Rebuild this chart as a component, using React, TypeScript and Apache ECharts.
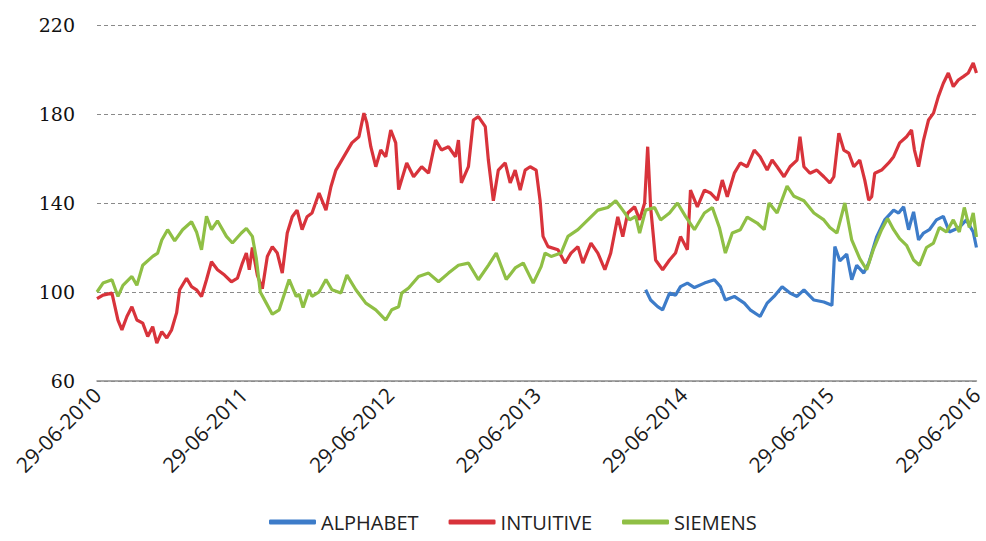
import React, { useEffect, useRef } from "react";
import * as echarts from "echarts";

// x = years since 29-06-2010
const seriesNames = ["ALPHABET", "INTUITIVE", "SIEMENS"];
const seriesColors = ["#3d7cc9", "#d8333b", "#8fbf45"];
const startYear = 2010;
const yTicks = [60, 100, 140, 180, 220];

const alphabetT = [3.743, 3.777, 3.825, 3.859, 3.906, 3.947, 3.981, 4.028, 4.076, 4.144, 4.212, 4.253, 4.287, 4.348, 4.416, 4.456, 4.524, 4.572, 4.619, 4.674, 4.728, 4.776, 4.823, 4.891, 4.959, 5.014, 5.034, 5.068, 5.115, 5.149, 5.183, 5.231, 5.265, 5.319, 5.374, 5.435, 5.469, 5.503, 5.537, 5.571, 5.605, 5.639, 5.679, 5.727, 5.774, 5.815, 5.883, 5.931, 5.978, 6.0];
const alphabetV = [101, 96.4, 93.4, 92, 99.5, 98.6, 102.4, 104, 102, 104, 105.5, 102.4, 96.4, 98, 95, 92, 89, 95, 98, 102.4, 99.5, 98, 101, 96.4, 95.5, 94, 120.4, 114, 117, 105.5, 112, 108.5, 113, 124.7, 132.4, 136.8, 135.5, 138.3, 128, 136, 123.4, 126.5, 128, 132.4, 134, 127, 129, 132.4, 127, 120];

const intuitiveT = [0, 0.041, 0.102, 0.143, 0.17, 0.204, 0.238, 0.272, 0.312, 0.346, 0.38, 0.408, 0.442, 0.476, 0.509, 0.543, 0.564, 0.611, 0.645, 0.679, 0.713, 0.747, 0.781, 0.822, 0.87, 0.917, 0.958, 0.992, 1.019, 1.039, 1.06, 1.094, 1.128, 1.162, 1.196, 1.23, 1.264, 1.298, 1.332, 1.365, 1.399, 1.433, 1.467, 1.515, 1.562, 1.596, 1.63, 1.664, 1.698, 1.739, 1.787, 1.821, 1.841, 1.868, 1.902, 1.936, 1.97, 2.004, 2.038, 2.058, 2.113, 2.16, 2.215, 2.262, 2.31, 2.35, 2.398, 2.446, 2.466, 2.486, 2.534, 2.568, 2.602, 2.649, 2.67, 2.704, 2.738, 2.785, 2.819, 2.853, 2.887, 2.921, 2.955, 2.996, 3.023, 3.043, 3.077, 3.145, 3.193, 3.234, 3.281, 3.315, 3.37, 3.417, 3.465, 3.505, 3.553, 3.587, 3.621, 3.668, 3.702, 3.736, 3.757, 3.777, 3.811, 3.859, 3.906, 3.947, 3.981, 4.028, 4.049, 4.096, 4.144, 4.185, 4.232, 4.266, 4.3, 4.348, 4.389, 4.436, 4.484, 4.524, 4.572, 4.606, 4.64, 4.687, 4.728, 4.776, 4.796, 4.823, 4.864, 4.911, 4.959, 5.0, 5.027, 5.061, 5.095, 5.129, 5.163, 5.204, 5.238, 5.265, 5.285, 5.306, 5.353, 5.401, 5.435, 5.476, 5.523, 5.557, 5.577, 5.605, 5.639, 5.673, 5.707, 5.74, 5.774, 5.808, 5.842, 5.876, 5.91, 5.944, 5.978, 6.0];
const intuitiveV = [97, 98.6, 99.5, 87.4, 83, 89, 93.4, 87.4, 86, 80, 84.4, 77, 82.2, 79.3, 83, 90.6, 101, 106.2, 102.4, 101, 98, 105.5, 113.6, 110, 107.6, 104.6, 106.2, 113, 117.5, 110, 120, 107.5, 101.5, 116, 120.4, 117.5, 108.5, 126.5, 133.8, 136.8, 128, 133.8, 135.5, 144.5, 136.8, 147.3, 154.8, 158.6, 162.4, 167, 169.8, 180.4, 176, 165.3, 156.3, 163.8, 160.8, 172.8, 167, 146, 158, 151.8, 156.3, 153.4, 168.3, 163.8, 165.3, 160.8, 168.3, 149, 156.3, 177.3, 178.8, 174.3, 159.3, 141, 154.8, 158, 149, 154.8, 145.8, 154.8, 156.3, 154.8, 141, 125, 120.4, 119, 113, 117.5, 120.4, 113, 122, 117.5, 110, 117.5, 133.8, 124.9, 135.5, 138.3, 132.4, 140, 165.3, 138.3, 114.4, 110, 114.4, 117.5, 124.9, 119, 145.8, 138.3, 145.8, 144.5, 141.3, 150.3, 142.8, 153.4, 158, 156.3, 163.8, 160.8, 154.8, 159.3, 156.3, 151.8, 156.3, 159.3, 169.8, 156.3, 153.4, 154.8, 151.8, 149, 151.8, 171.4, 163.8, 162.4, 156.3, 159.3, 150.3, 141.3, 142.8, 153.4, 154.8, 158, 160.8, 167, 169.8, 172.8, 163.8, 156.3, 168.3, 177.3, 180.4, 187.8, 193.8, 198.4, 192.3, 195.3, 196.8, 198.4, 202.9, 198.4];

const siemensT = [0, 0.041, 0.102, 0.143, 0.177, 0.238, 0.272, 0.312, 0.38, 0.414, 0.442, 0.482, 0.53, 0.584, 0.645, 0.679, 0.713, 0.747, 0.781, 0.822, 0.883, 0.924, 0.985, 1.019, 1.06, 1.087, 1.114, 1.155, 1.196, 1.243, 1.311, 1.359, 1.379, 1.406, 1.447, 1.467, 1.515, 1.562, 1.603, 1.664, 1.705, 1.766, 1.834, 1.902, 1.97, 2.011, 2.058, 2.079, 2.126, 2.194, 2.262, 2.33, 2.398, 2.466, 2.534, 2.602, 2.67, 2.724, 2.792, 2.853, 2.908, 2.976, 3.03, 3.057, 3.098, 3.166, 3.213, 3.281, 3.349, 3.417, 3.485, 3.539, 3.587, 3.634, 3.675, 3.702, 3.743, 3.804, 3.845, 3.906, 3.96, 4.015, 4.076, 4.144, 4.198, 4.246, 4.287, 4.334, 4.389, 4.436, 4.504, 4.552, 4.585, 4.64, 4.708, 4.755, 4.823, 4.891, 4.959, 5.0, 5.048, 5.102, 5.149, 5.204, 5.251, 5.299, 5.353, 5.394, 5.435, 5.476, 5.523, 5.571, 5.611, 5.659, 5.707, 5.747, 5.795, 5.842, 5.883, 5.917, 5.951, 5.978, 6.0];
const siemensV = [100, 104, 105.5, 98, 103, 107, 103, 112, 116, 117.5, 123.4, 128, 123, 128, 131.6, 127, 119, 134, 128, 132, 125, 122, 126.5, 128.6, 125, 115, 100, 95, 90, 92, 105.6, 98, 99, 93, 101, 98, 100, 105.6, 101, 99.5, 107.6, 101, 95, 92, 87.4, 92, 93.4, 99.5, 101.8, 107, 108.5, 104.6, 108.5, 112, 113, 105.5, 112, 117.5, 105.6, 110.8, 113, 104, 111.4, 117.5, 116, 117.5, 125, 128, 132.4, 136.8, 138, 141, 136.8, 132.4, 134, 126.5, 136.8, 138, 132.4, 135.5, 140, 134, 128, 135.5, 138, 129, 117.5, 126.5, 128, 133.7, 131, 128, 140, 135.5, 147.6, 143, 141, 135.5, 132.4, 129, 126.5, 140, 123.4, 115, 110, 119.5, 128, 133, 128, 124, 121, 114.4, 112, 120, 122, 129, 127, 132.4, 127, 138, 129, 135.5, 124.7];

const seriesT = [alphabetT, intuitiveT, siemensT];
const seriesV = [alphabetV, intuitiveV, siemensV];

export default function App() {
  const ref = useRef<HTMLDivElement>(null);
  useEffect(() => {
    if (!ref.current) return;
    const chart = echarts.init(ref.current, null, { renderer: "svg" });
    chart.setOption({
      animation: false,
      backgroundColor: "#ffffff",
      grid: { left: 97, right: 6, top: 25, bottom: 160, containLabel: false },
      legend: {
        data: seriesNames,
        left: 264,
        top: 507,
        icon: "roundRect",
        itemWidth: 47,
        itemHeight: 5,
        itemGap: 30,
        textStyle: { fontFamily: "Open Sans", fontSize: 20, color: "#222" },
      },
      xAxis: {
        type: "value",
        min: 0,
        max: 6,
        interval: 1,
        axisLine: { show: true, lineStyle: { color: "#8a8a8a", width: 1.5 } },
        axisTick: { show: false },
        splitLine: { show: false },
        axisLabel: {
          rotate: 45,
          margin: 10,
          fontFamily: "Open Sans",
          fontSize: 21,
          color: "#1a1a1a",
          formatter: (v: number) => `29-06-${startYear + Math.round(v)}`,
        },
      },
      yAxis: {
        type: "value",
        min: yTicks[0],
        max: yTicks[yTicks.length - 1],
        interval: 40,
        axisLine: { show: false },
        axisTick: { show: false },
        splitLine: { show: true, lineStyle: { color: "#8a8a8a", type: [4, 3], width: 1 } },
        axisLabel: { margin: 22, fontFamily: "DejaVu Serif", fontSize: 19, color: "#111" },
      },
      series: seriesNames.map((name, i) => ({
        name,
        type: "line",
        symbol: "none",
        showSymbol: false,
        color: seriesColors[i],
        lineStyle: { width: 3.2, color: seriesColors[i] },
        data: seriesT[i].map((t, j) => [t, seriesV[i][j]]),
      })),
    });
    return () => chart.dispose();
  }, []);
  return (
    <div
      ref={ref}
      style={{ position: "fixed", left: 0, top: 0, width: 986, height: 541 }}
    />
  );
}
